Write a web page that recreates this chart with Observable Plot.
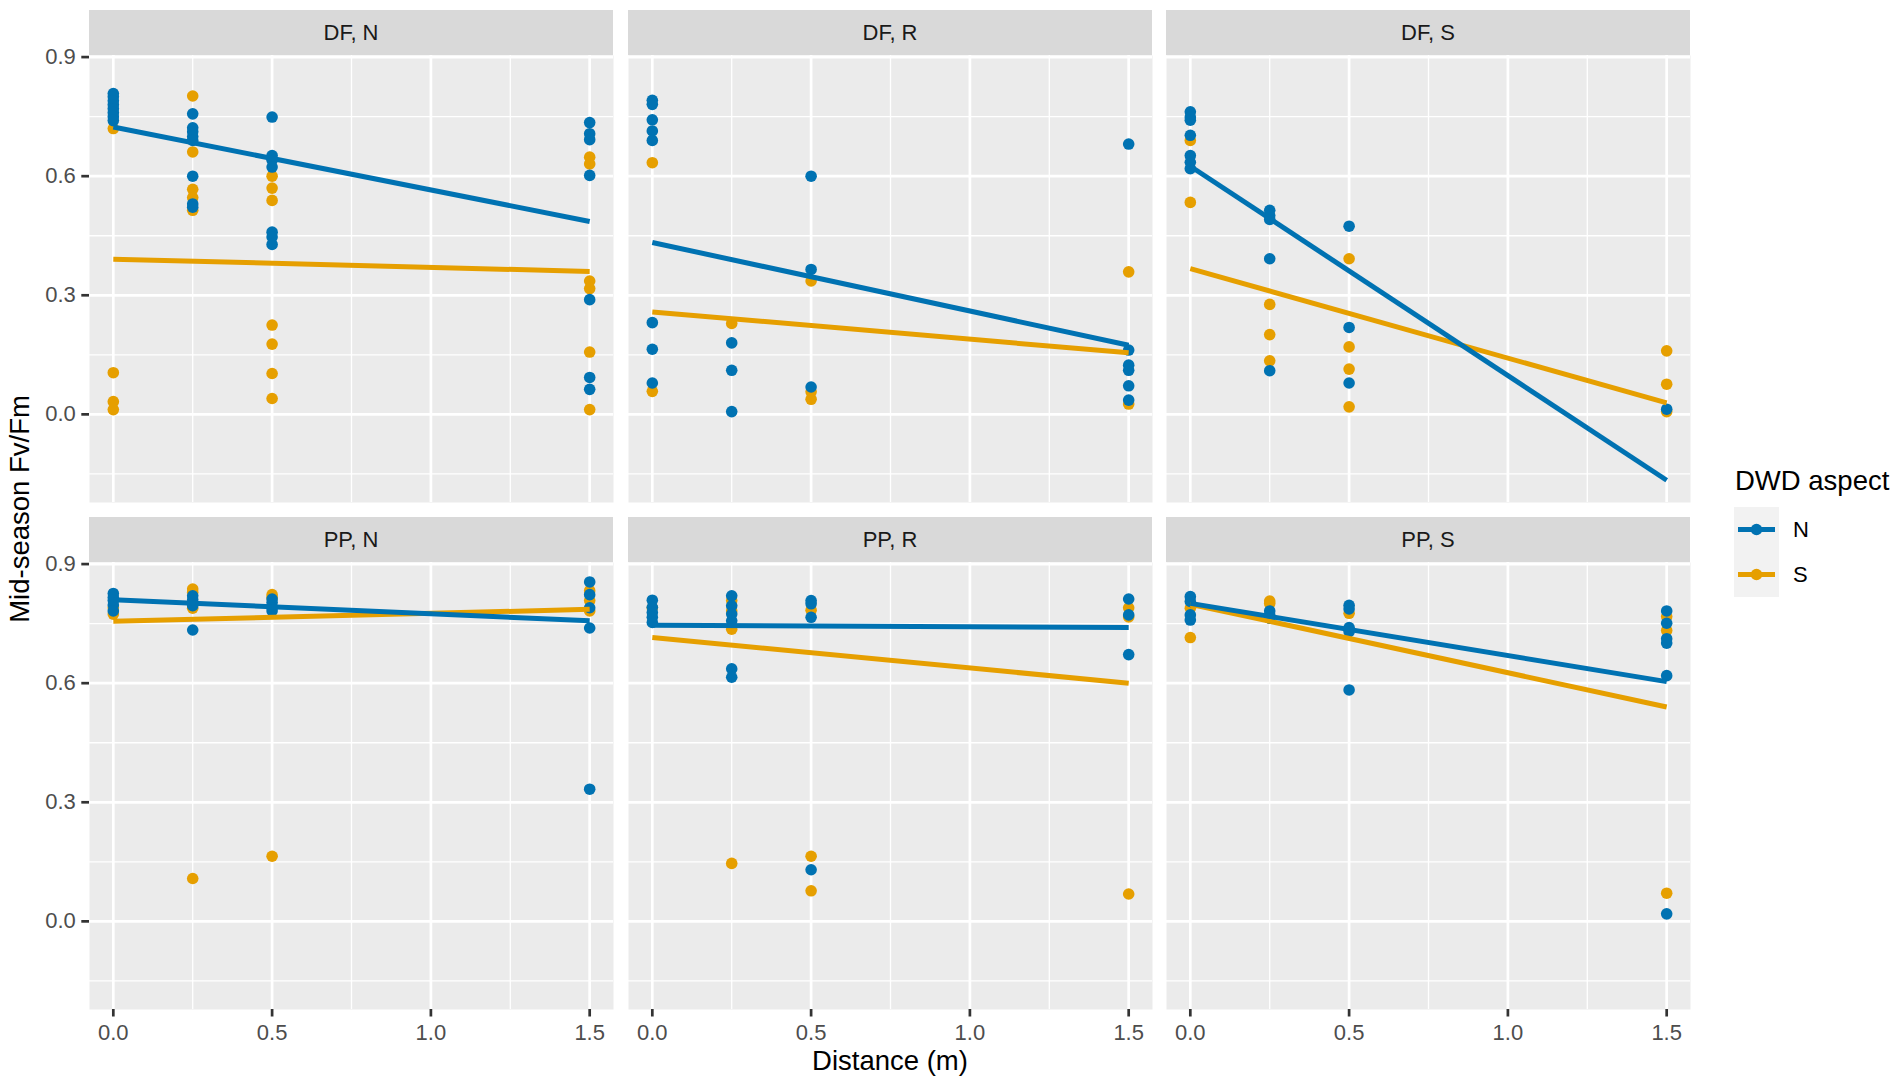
<!DOCTYPE html>
<html>
<head>
<meta charset="utf-8">
<script src="https://cdn.jsdelivr.net/npm/d3@7"></script>
<script src="https://cdn.jsdelivr.net/npm/@observablehq/plot@0.6"></script>
<style>
  body { margin: 0; background: #ffffff; font-family: "Liberation Sans", Arial, sans-serif; }
  #chart { position: relative; width: 1902px; height: 1085px; overflow: hidden; }
  .cell { position: absolute; }
  .strip { position: absolute; background: #D9D9D9; color: #1A1A1A; font-size: 22px;
           display: flex; align-items: center; justify-content: center; }
  #overlay { position: absolute; left: 0; top: 0; }
</style>
</head>
<body>
<div id="chart"></div>
<script>
// ---------------- data ----------------
const facets = ["DF, N", "DF, R", "DF, S", "PP, N", "PP, R", "PP, S"];
const aspects = ["N", "S"];
const aspectColors = ["#0072B2", "#E69F00"];
const distances = [0, 0.25, 0.5, 1.5];

const xMajor = [0, 0.5, 1, 1.5];
const xMinor = [0.25, 0.75, 1.25];
const xTickLabels = ["0.0", "0.5", "1.0", "1.5"];
const yMajor = [0, 0.3, 0.6, 0.9];
const yMinor = [-0.15, 0.15, 0.45, 0.75];
const yTickLabels = ["0.0", "0.3", "0.6", "0.9"];

// values per distance (0, 0.25, 0.5, 1.5)
const dfN_N = [[0.808, 0.80, 0.79, 0.78, 0.77, 0.76, 0.75, 0.74],
               [0.757, 0.722, 0.712, 0.70, 0.69, 0.60, 0.53, 0.522],
               [0.749, 0.652, 0.64, 0.623, 0.459, 0.447, 0.428],
               [0.735, 0.707, 0.692, 0.602, 0.289, 0.093, 0.063]];
const dfN_S = [[0.72, 0.105, 0.032, 0.012],
               [0.802, 0.661, 0.567, 0.546, 0.514],
               [0.60, 0.57, 0.539, 0.225, 0.177, 0.103, 0.04],
               [0.648, 0.631, 0.336, 0.317, 0.157, 0.012]];
const dfR_N = [[0.791, 0.781, 0.742, 0.714, 0.69, 0.231, 0.164, 0.079],
               [0.18, 0.111, 0.007],
               [0.60, 0.365, 0.069],
               [0.681, 0.162, 0.124, 0.111, 0.072, 0.036]];
const dfR_S = [[0.634, 0.058],
               [0.229],
               [0.336, 0.057, 0.038],
               [0.359, 0.026]];
const dfS_N = [[0.762, 0.749, 0.741, 0.703, 0.652, 0.635, 0.619],
               [0.514, 0.501, 0.491, 0.392, 0.11],
               [0.474, 0.219, 0.079],
               [0.013]];
const dfS_S = [[0.69, 0.534],
               [0.277, 0.201, 0.135],
               [0.392, 0.17, 0.114, 0.019],
               [0.16, 0.076, 0.007]];
const ppN_N = [[0.826, 0.816, 0.808, 0.797, 0.782],
               [0.82, 0.81, 0.795, 0.734],
               [0.812, 0.803, 0.79, 0.782],
               [0.855, 0.823, 0.79, 0.739, 0.333]];
const ppN_S = [[0.79, 0.774],
               [0.837, 0.829, 0.80, 0.789, 0.108],
               [0.823, 0.816, 0.164],
               [0.833, 0.808, 0.782]];
const ppR_N = [[0.809, 0.791, 0.778, 0.766, 0.753],
               [0.82, 0.795, 0.774, 0.757, 0.636, 0.615],
               [0.808, 0.80, 0.766, 0.13],
               [0.812, 0.772, 0.672]];
const ppR_S = [[0.79],
               [0.808, 0.782, 0.736, 0.146],
               [0.784, 0.164, 0.077],
               [0.79, 0.767, 0.069]];
const ppS_N = [[0.818, 0.806, 0.772, 0.759],
               [0.782, 0.772, 0.764],
               [0.796, 0.787, 0.74, 0.73, 0.583],
               [0.782, 0.751, 0.712, 0.701, 0.619, 0.019]];
const ppS_S = [[0.789, 0.715],
               [0.807, 0.801, 0.764],
               [0.776],
               [0.768, 0.733, 0.071]];

// fitted linear trend (geom_smooth lm) at distance 0 and 1.5, per facet
const fitN_start = [0.724, 0.433, 0.625, 0.810, 0.746, 0.801];
const fitN_end   = [0.486, 0.174, -0.166, 0.757, 0.740, 0.604];
const fitS_start = [0.391, 0.258, 0.367, 0.756, 0.715, 0.799];
const fitS_end   = [0.360, 0.155, 0.029, 0.786, 0.600, 0.540];

// ---------------- tables ----------------
const seriesByFacet = [
  [dfN_N, dfN_S], [dfR_N, dfR_S], [dfS_N, dfS_S],
  [ppN_N, ppN_S], [ppR_N, ppR_S], [ppS_N, ppS_S]
];
const points = [];
seriesByFacet.forEach((pair, fi) => {
  // draw S first, then N
  [1, 0].forEach(ai => {
    pair[ai].forEach((vals, di) => {
      vals.forEach(v => points.push({facet: facets[fi], aspect: aspects[ai], x: distances[di], y: v}));
    });
  });
});
const fits = [];
facets.forEach((f, fi) => {
  fits.push({facet: f, aspect: "S", x1: distances[0], x2: distances[3], y1: fitS_start[fi], y2: fitS_end[fi]});
  fits.push({facet: f, aspect: "N", x1: distances[0], x2: distances[3], y1: fitN_start[fi], y2: fitN_end[fi]});
});

// ---------------- layout ----------------
const colLeft = [89, 628, 1166];
const rowTop = [55, 562];
const panelW = 524, panelH = 447, stripH = 45;
const FONT = '"Liberation Sans", Arial, sans-serif';

const chart = document.getElementById("chart");

facets.forEach((f, i) => {
  const col = i % 3, row = Math.floor(i / 3);
  const ml = col === 0 ? 89 : 0;
  const mb = row === 1 ? 60 : 0;
  const pts = points.filter(d => d.facet === f);
  const fl = fits.filter(d => d.facet === f);
  const marks = [
    Plot.frame({fill: "#EBEBEB", stroke: "none"}),
    Plot.gridX(xMinor, {stroke: "#ffffff", strokeOpacity: 1, strokeWidth: 1.3}),
    Plot.gridY(yMinor, {stroke: "#ffffff", strokeOpacity: 1, strokeWidth: 1.3}),
    Plot.gridX(xMajor, {stroke: "#ffffff", strokeOpacity: 1, strokeWidth: 2.7}),
    Plot.gridY(yMajor, {stroke: "#ffffff", strokeOpacity: 1, strokeWidth: 2.7}),
    Plot.dot(pts, {x: "x", y: "y", fill: "aspect", r: 5.8}),
    Plot.link(fl, {x1: "x1", y1: "y1", x2: "x2", y2: "y2", stroke: "aspect", strokeWidth: 5})
  ];
  if (col === 0) {
    marks.push(Plot.axisY(yMajor, {
      tickSize: 7.7, tickPadding: 6, strokeWidth: 2.7, stroke: "#333333", fill: "#4D4D4D",
      fontSize: 22, label: null, tickFormat: d => yTickLabels[yMajor.indexOf(d)]
    }));
  }
  if (row === 1) {
    marks.push(Plot.axisX(xMajor, {
      tickSize: 7.5, tickPadding: 7, strokeWidth: 2.7, stroke: "#333333", fill: "#4D4D4D",
      fontSize: 22, label: null, tickFormat: d => xTickLabels[xMajor.indexOf(d)]
    }));
  }
  const svg = Plot.plot({
    width: ml + panelW,
    height: panelH + mb,
    marginLeft: ml, marginRight: 0, marginTop: 0, marginBottom: mb,
    style: {fontFamily: FONT, fontSize: "22px", background: "transparent", overflow: "visible"},
    x: {domain: [-0.075, 1.575], axis: null},
    y: {domain: [-0.222, 0.904], axis: null},
    color: {domain: aspects, range: aspectColors},
    marks
  });
  const cell = document.createElement("div");
  cell.className = "cell";
  cell.style.left = (colLeft[col] - ml) + "px";
  cell.style.top = rowTop[row] + "px";
  cell.appendChild(svg);
  chart.appendChild(cell);

  const strip = document.createElement("div");
  strip.className = "strip";
  strip.style.left = colLeft[col] + "px";
  strip.style.top = (rowTop[row] - stripH) + "px";
  strip.style.width = panelW + "px";
  strip.style.height = stripH + "px";
  strip.textContent = f;
  chart.appendChild(strip);
});

// ---------------- titles & legend ----------------
const ov = d3.select(chart).append("svg").attr("id", "overlay")
  .attr("width", 1902).attr("height", 1085)
  .style("font-family", FONT);

ov.append("text")
  .attr("transform", "translate(29,509) rotate(-90)")
  .attr("text-anchor", "middle").attr("font-size", 27.5).attr("fill", "#000")
  .text("Mid-season Fv/Fm");
ov.append("text")
  .attr("x", 890).attr("y", 1070)
  .attr("text-anchor", "middle").attr("font-size", 27.5).attr("fill", "#000")
  .text("Distance (m)");

ov.append("text")
  .attr("x", 1735).attr("y", 489.5)
  .attr("font-size", 27.5).attr("fill", "#000")
  .text("DWD aspect");

aspects.forEach((a, k) => {
  const top = 507 + k * 45;
  const g = ov.append("g");
  g.append("rect").attr("x", 1734).attr("y", top).attr("width", 45).attr("height", 45).attr("fill", "#F2F2F2");
  g.append("line").attr("x1", 1738).attr("x2", 1775).attr("y1", top + 22.5).attr("y2", top + 22.5)
    .attr("stroke", aspectColors[k]).attr("stroke-width", 5);
  g.append("circle").attr("cx", 1756.5).attr("cy", top + 22.5).attr("r", 5.8).attr("fill", aspectColors[k]);
  g.append("text").attr("x", 1793).attr("y", top + 22.5).attr("dy", "0.36em")
    .attr("font-size", 22).attr("fill", "#000").text(a);
});
</script>
</body>
</html>
